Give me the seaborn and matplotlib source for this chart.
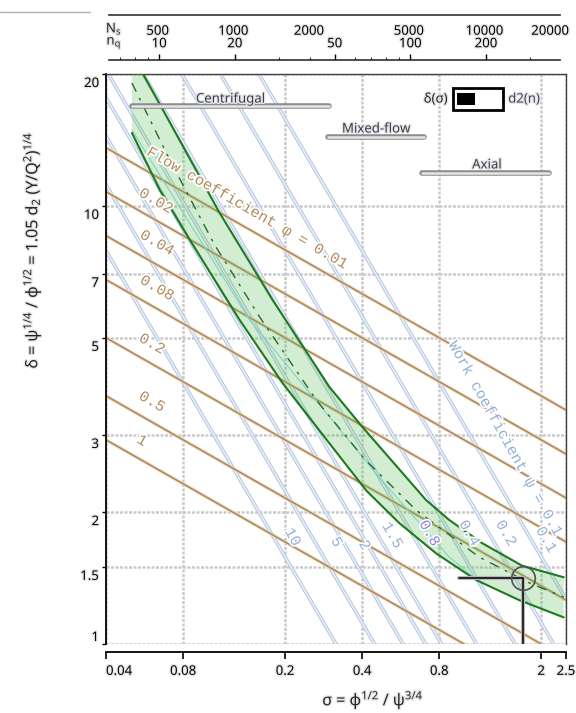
import numpy as np
import pandas as pd
import matplotlib
matplotlib.use('Agg')
import matplotlib.pyplot as plt
import matplotlib.patheffects as pe
from matplotlib.lines import Line2D
from matplotlib.patches import Rectangle
from matplotlib.ticker import NullLocator, LogLocator
from matplotlib.transforms import offset_copy
import seaborn as sns

# ---- axis ranges / ticks ----
sigma_lim = [0.04, 2.5]
delta_lim = [1, 20]
x_ticks = [0.04, 0.08, 0.2, 0.4, 0.8, 2, 2.5]
x_tick_labels = ['0.04', '0.08', '0.2', '0.4', '0.8', '2', '2.5']
y_ticks = [1, 1.5, 2, 3, 5, 7, 10, 20]
y_tick_labels = ['1', '1.5', '2', '3', '5', '7', '10', '20']
x_grid = [0.04, 0.08, 0.2, 0.4, 0.8, 2, 2.5]
y_grid = [1, 1.5, 2, 3, 5, 7, 10, 20]

# specific speed scales on top
ns_ticks = [500, 1000, 2000, 5000, 10000, 20000]
nq_ticks = [10, 20, 50, 100, 200]
NS_PER_SIGMA = 8000
NQ_PER_SIGMA = 157.8

# ---- iso lines ----
phi_values = [0.01, 0.02, 0.04, 0.08, 0.2, 0.5, 1]
psi_values = [10, 5, 3, 2, 1.5, 0.8, 0.4, 0.2, 0.1]

# ---- Cordier band ----
upper_sigma = [0.0558, 0.0661, 0.1112, 0.1788, 0.2981, 0.4007, 0.711, 0.874, 1.175, 1.682, 2.45]
upper_delta = [20.0, 16.73, 9.63, 6.10, 3.86, 3.13, 2.13, 1.92, 1.70, 1.51, 1.42]
lower_sigma = [0.0505, 0.0649, 0.0850, 0.1330, 0.1956, 0.2981, 0.4152, 0.5584, 0.778, 1.114,
               1.638, 2.45]
lower_delta = [14.67, 10.87, 8.36, 5.49, 3.94, 2.87, 2.24, 1.888, 1.61, 1.40, 1.26, 1.15]
centre_sigma = [0.0505, 0.0710, 0.1063, 0.1591, 0.2653, 0.412, 0.6503, 1.144, 1.791, 2.45]
centre_delta = [19.08, 12.72, 8.14, 5.58, 3.60, 2.63, 2.02, 1.58, 1.38, 1.28]
inner_sigma = [0.0505, 0.1455, 0.475, 0.874, 1.124]
inner_delta = [14.9, 5.49, 2.37, 1.58, 1.40]

# operating point
op_sigma = 1.698
op_delta = 1.414
op_line_start = 0.956

# machine type ranges
type_names = ['Centrifugal', 'Mixed-flow', 'Axial']
type_start = [0.0505, 0.293, 0.686]
type_end = [0.298, 0.699, 2.144]
type_delta = [16.9, 14.37, 11.88]
type_text_sigma = [0.1227, 0.454, 1.229]
type_text_delta = [17.53, 14.98, 12.4]

# line labels
phi_label_text = ['0.02', '0.04', '0.08', '0.2', '0.5', '1']
phi_label_sigma = [0.0626, 0.0632, 0.0632, 0.0604, 0.0604, 0.0552]
phi_label_delta = [10.26, 8.23, 6.49, 4.84, 3.57, 2.91]
psi_label_text = ['10', '5', '2', '1.5', '0.8', '0.4', '0.2', '0.1']
psi_label_sigma = [0.214, 0.3175, 0.408, 0.524, 0.731, 1.046, 1.457, 2.088]
psi_label_delta = [1.754, 1.708, 1.68, 1.77, 1.79, 1.79, 1.79, 1.73]
psi_label_color = ['#93b0d8'] * 4 + ['#8a86e0'] + ['#93b0d8'] * 3

sns.set_theme(style='white')
plt.rcParams['font.family'] = ['Noto Sans', 'DejaVu Sans']
plt.rcParams['mathtext.default'] = 'regular'

W, H = 576, 713
fig = plt.figure(figsize=(W / 100, H / 100), dpi=100)
ax = fig.add_axes([106 / W, 1 - 644 / H, 460 / W, 570 / H])
ax.set_xscale('log')
ax.set_yscale('log')
ax.set_xlim(sigma_lim)
ax.set_ylim(delta_lim)

halo = [pe.withStroke(linewidth=2.5, foreground='white')]
soft = [pe.withStroke(linewidth=2, foreground='#e6e6e6')]

# grid
grid_kw = dict(color='#cacaca', lw=1.8, ls=(0, (1.2, 0.6)), zorder=0)
for v in x_grid:
    ax.axvline(v, **grid_kw)
for v in y_grid:
    ax.axhline(v, **grid_kw)

# constant work coefficient lines: delta = 1 / (sigma * sqrt(psi))
psi_df = pd.DataFrame([(p, s, 1 / (s * np.sqrt(p))) for p in psi_values for s in sigma_lim],
                      columns=['psi', 'sigma', 'delta'])
sns.lineplot(data=psi_df, x='sigma', y='delta', units='psi', estimator=None, sort=False,
             color='#b6c9e3', lw=2.6, ax=ax, legend=False, zorder=1)
sns.lineplot(data=psi_df, x='sigma', y='delta', units='psi', estimator=None, sort=False,
             color='#f4f7fb', lw=0.9, ax=ax, legend=False, zorder=1)

# constant flow coefficient lines: delta = (sigma * phi) ** (-1/3)
phi_df = pd.DataFrame([(p, s, (s * p) ** (-1 / 3)) for p in phi_values for s in sigma_lim],
                      columns=['phi', 'sigma', 'delta'])
sns.lineplot(data=phi_df, x='sigma', y='delta', units='phi', estimator=None, sort=False,
             color='#e6d4be', lw=2.4, ax=ax, legend=False, zorder=2)
sns.lineplot(data=phi_df, x='sigma', y='delta', units='phi', estimator=None, sort=False,
             color='#a87d4c', lw=0.9, ax=ax, legend=False, zorder=2)

# Cordier band
band_x = list(lower_sigma) + list(upper_sigma[::-1]) + [lower_sigma[0]]
band_y = list(lower_delta) + list(upper_delta[::-1]) + [upper_delta[0]]
ax.fill(band_x, band_y, color='#5cbf5c', alpha=0.27, lw=0, zorder=3)
sns.lineplot(x=inner_sigma, y=inner_delta, sort=False, color='#7fd3c6', lw=0.8, ax=ax, zorder=3)
sns.lineplot(x=upper_sigma, y=upper_delta, sort=False, color='#1d7a1d', lw=1.5, ax=ax, zorder=4)
sns.lineplot(x=lower_sigma, y=lower_delta, sort=False, color='#1d7a1d', lw=1.5, ax=ax, zorder=4)
sns.lineplot(x=centre_sigma, y=centre_delta, sort=False, color='#2a6a2a', lw=1.0,
             ax=ax, zorder=4)
ax.lines[-1].set_dashes((7, 5, 2, 5))

# machine type bars
for name, s0, s1, d, ts, td in zip(type_names, type_start, type_end, type_delta,
                                   type_text_sigma, type_text_delta):
    ax.plot([s0, s1], [d, d], color='#8c8c8c', lw=4, solid_capstyle='round', zorder=5)
    ax.plot([s0, s1], [d, d], color='#e6e6e6', lw=1.8, solid_capstyle='round', zorder=5)
    ax.text(ts, td, name, ha='center', va='center', fontsize=9.5, color='#3c3c50',
            path_effects=soft, zorder=6)

# line labels
for t, s, d in zip(phi_label_text, phi_label_sigma, phi_label_delta):
    ax.text(s, d, t, ha='center', va='center', rotation=-30, fontsize=11,
            family='Liberation Mono', color='#b08a5c', path_effects=halo, zorder=6)
ax.text(0.1416, 9.89, 'Flow coefficient φ = 0.01', ha='center', va='center', rotation=-30,
        fontsize=11, family=['Liberation Mono', 'DejaVu Sans Mono'], color='#b08a5c',
        path_effects=halo, zorder=6)
for t, s, d, c in zip(psi_label_text, psi_label_sigma, psi_label_delta, psi_label_color):
    ax.text(s, d, t, ha='center', va='center', rotation=-60, fontsize=11,
            family='Liberation Mono', color=c, path_effects=halo, zorder=6)
ax.text(1.444, 2.95, 'Work coefficient ψ = 0.1', ha='center', va='center', rotation=-61,
        fontsize=11, family=['Liberation Mono', 'DejaVu Sans Mono'], color='#93b0d8',
        path_effects=halo, zorder=6)

# operating point marker
ax.plot([op_line_start, op_sigma], [op_delta, op_delta], color='#b8b8b8', lw=3, zorder=6)
ax.plot([op_sigma, op_sigma], [op_delta, delta_lim[0]], color='#b8b8b8', lw=3, zorder=6)
ax.plot([op_line_start, op_sigma], [op_delta, op_delta], color='black', lw=1.1, zorder=7)
ax.plot([op_sigma, op_sigma], [op_delta, delta_lim[0]], color='black', lw=1.1, zorder=7)
ax.plot([op_sigma], [op_delta], marker='o', ms=17, mfc='none', mec='#505050', mew=1.2, zorder=7)

# toggle widget
ax.text(0.717, 0.956, 'δ(σ)', transform=ax.transAxes, ha='center', va='center',
        fontsize=9.5, color='#222222', path_effects=soft, zorder=8)
ax.add_patch(Rectangle((0.754, 0.937), 0.109, 0.038, transform=ax.transAxes, facecolor='white',
                       edgecolor='black', lw=2, zorder=8))
ax.add_patch(Rectangle((0.763, 0.946), 0.039, 0.021, transform=ax.transAxes, facecolor='black',
                       edgecolor='none', zorder=9))
ax.text(0.909, 0.956, 'd2(n)', transform=ax.transAxes, ha='center', va='center',
        fontsize=9.5, color='#444466', path_effects=soft, zorder=8)

# spines and ticks
for side in ['top', 'right']:
    ax.spines[side].set_color('#404040')
    ax.spines[side].set_linewidth(1.0)
for side in ['left', 'bottom']:
    ax.spines[side].set_color('black')
    ax.spines[side].set_linewidth(1.3)
ax.spines['bottom'].set_position(('outward', 6))
ax.set_xticks(x_ticks, labels=x_tick_labels)
ax.set_yticks(y_ticks, labels=y_tick_labels)
ax.xaxis.set_minor_locator(NullLocator())
ax.yaxis.set_minor_locator(NullLocator())
ax.tick_params(axis='x', direction='out', length=5, width=1.2, pad=4, labelsize=9.5,
               colors='black', bottom=True)
ax.tick_params(axis='y', direction='out', length=3, width=1.0, pad=2, labelsize=9.5,
               colors='black', left=True)
for lbl in ax.get_xticklabels():
    lbl.set_path_effects(soft)
ax.get_xticklabels()[0].set_ha('left')
for lbl in ax.get_yticklabels():
    lbl.set_path_effects(soft)
    if lbl.get_text() == '1':
        lbl.set_va('bottom')
    else:
        lbl.set_va('top')
        lbl.set_transform(offset_copy(lbl.get_transform(), fig=fig, x=0, y=-3, units='dots'))
ax.set_xlabel('')
ax.set_ylabel('')

# top specific-speed scales
top_left, top_w = 109 / W, 451 / W
ax_ns = fig.add_axes([top_left, 1 - 15 / H, top_w, 0.0005])
ax_nq = fig.add_axes([top_left, 1 - 60 / H - 0.0005, top_w, 0.0005])
for a, k, ticks in [(ax_ns, NS_PER_SIGMA, ns_ticks), (ax_nq, NQ_PER_SIGMA, nq_ticks)]:
    a.set_xscale('log')
    a.set_xlim(sigma_lim[0] * k, sigma_lim[1] * k)
    a.set_facecolor('none')
    a.set_yticks([])
    for s in a.spines.values():
        s.set_visible(False)
    a.set_xticks(ticks, labels=[str(t) for t in ticks])
    a.xaxis.set_minor_locator(LogLocator(subs='all'))
    a.xaxis.set_minor_formatter(plt.NullFormatter())
ax_ns.spines['bottom'].set_visible(True)
ax_ns.spines['bottom'].set_color('#303030')
ax_ns.spines['bottom'].set_linewidth(1.2)
ax_ns.tick_params(axis='x', which='major', direction='out', length=4, width=1.0, pad=3,
                  labelsize=9.5, colors='black')
ax_ns.tick_params(axis='x', which='minor', direction='out', length=2, width=0.8, colors='#303030')
ax_nq.spines['top'].set_visible(True)
ax_nq.spines['top'].set_color('#303030')
ax_nq.spines['top'].set_linewidth(1.2)
ax_nq.xaxis.set_ticks_position('top')
ax_nq.tick_params(axis='x', which='major', direction='out', length=4, width=1.0, pad=3,
                  labelsize=9.5, colors='black', top=True, bottom=False,
                  labeltop=True, labelbottom=False)
ax_nq.tick_params(axis='x', which='minor', direction='out', length=2, width=0.8,
                  colors='#303030', top=True, bottom=False)
for a in [ax_ns, ax_nq]:
    for lbl in a.get_xticklabels():
        lbl.set_path_effects(soft)
last = ax_ns.get_xticklabels()[-1]
last.set_transform(offset_copy(last.get_transform(), fig=fig, x=-10, y=0, units='dots'))

fig.text(114 / W, 1 - 29 / H, 'N$_s$', ha='center', va='center', fontsize=9.5,
         path_effects=soft)
fig.text(114 / W, 1 - 43 / H, 'n$_q$', ha='center', va='center', fontsize=9.5,
         path_effects=soft)
fig.add_artist(Line2D([0, 90 / W], [1 - 12 / H, 1 - 12 / H], color='#b0b0b0', lw=1))

# axis titles
fig.text(32 / W, 1 - 250 / H,
         'δ = ψ$^{1/4}$ / φ$^{1/2}$ = 1.05 d$_2$ (Y/Q$^2$)$^{1/4}$',
         rotation=90, ha='center', va='center', fontsize=11.5, color='#222222',
         path_effects=soft)
fig.text(373 / W, 1 - 700 / H, 'σ = φ$^{1/2}$ / ψ$^{3/4}$', ha='center', va='center',
         fontsize=11.5, color='#222222', path_effects=soft)

fig.savefig('out.png', dpi=100)
